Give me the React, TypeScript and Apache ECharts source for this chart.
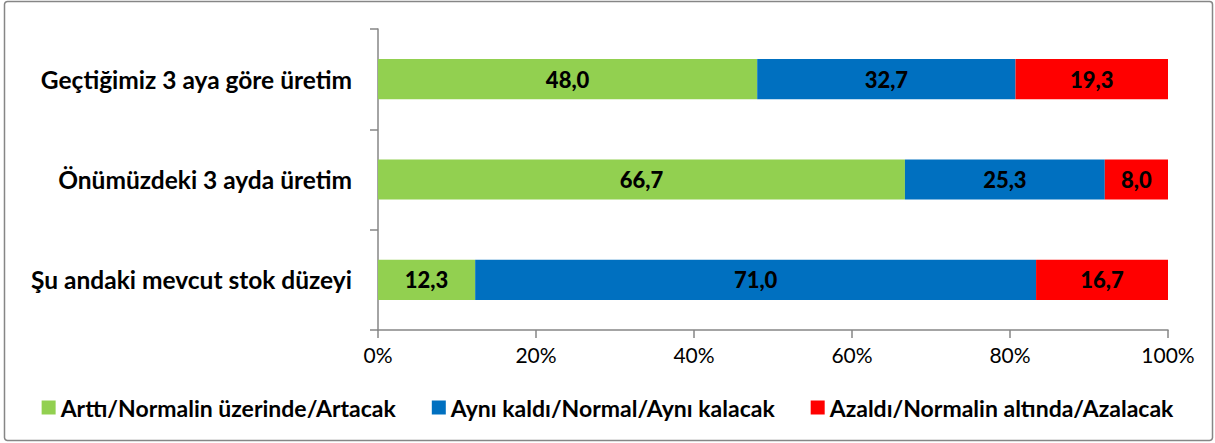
import React, { useEffect, useRef } from "react";
import * as echarts from "echarts";

const categories = [
  "Geçtiğimiz 3 aya göre üretim",
  "Önümüzdeki 3 ayda üretim",
  "Şu andaki mevcut stok düzeyi",
];
const seriesNames = [
  "Arttı/Normalin üzerinde/Artacak",
  "Aynı kaldı/Normal/Aynı kalacak",
  "Azaldı/Normalin altında/Azalacak",
];
const increased = [48.0, 66.7, 12.3];
const same = [32.7, 25.3, 71.0];
const decreased = [19.3, 8.0, 16.7];
const colors = ["#92D050", "#0070C0", "#FF0000"];

const FONT = "Lato";

export default function App() {
  const ref = useRef<HTMLDivElement>(null);
  useEffect(() => {
    document.body.style.margin = "0";
    const chart = echarts.init(ref.current!, null, { renderer: "svg" });
    const fmt = (p: any) => Number(p.value).toFixed(1).replace(".", ",");
    const mk = (name: string, data: number[], color: string) => ({
      name,
      type: "bar",
      stack: "total",
      barWidth: "40%",
      data,
      itemStyle: { color },
      label: {
        show: true,
        position: "inside",
        formatter: fmt,
        color: "#000",
        fontFamily: FONT,
        fontWeight: 900,
        fontSize: 22,
      },
    });
    chart.setOption({
      animation: false,
      graphic: [
        {
          type: "rect",
          shape: { x: 4.5, y: 1.5, width: 1208, height: 439, r: 3 },
          style: { fill: "none", stroke: "#868686", lineWidth: 1.5 },
          silent: true,
        },
      ],
      grid: { left: 378, right: 47, top: 29, bottom: 113 },
      legend: {
        bottom: 19,
        left: "center",
        itemWidth: 14,
        itemHeight: 14,
        itemGap: 36,
        icon: "rect",
        textStyle: {
          fontFamily: FONT,
          fontWeight: "bold",
          fontSize: 23,
          color: "#000",
        },
        data: seriesNames,
      },
      xAxis: {
        type: "value",
        min: 0,
        max: 100,
        interval: 20,
        axisLine: { show: true, lineStyle: { color: "#868686", width: 1.5 } },
        axisTick: { show: true, length: 8, lineStyle: { color: "#868686", width: 1.5 } },
        splitLine: { show: false },
        axisLabel: {
          formatter: (v: number) => v + "%",
          fontFamily: FONT,
          fontSize: 21,
          color: "#000",
          margin: 14,
        },
      },
      yAxis: {
        type: "category",
        inverse: true,
        data: categories,
        axisLine: { show: true, lineStyle: { color: "#868686", width: 1.5 } },
        axisTick: { show: true, length: 8, lineStyle: { color: "#868686", width: 1.5 } },
        axisLabel: {
          fontFamily: FONT,
          fontWeight: "bold",
          fontSize: 24.5,
          color: "#000",
          margin: 26,
        },
      },
      series: [
        mk(seriesNames[0], increased, colors[0]),
        mk(seriesNames[1], same, colors[1]),
        mk(seriesNames[2], decreased, colors[2]),
      ],
    });
    return () => chart.dispose();
  }, []);
  return <div ref={ref} style={{ width: 1215, height: 443 }} />;
}
